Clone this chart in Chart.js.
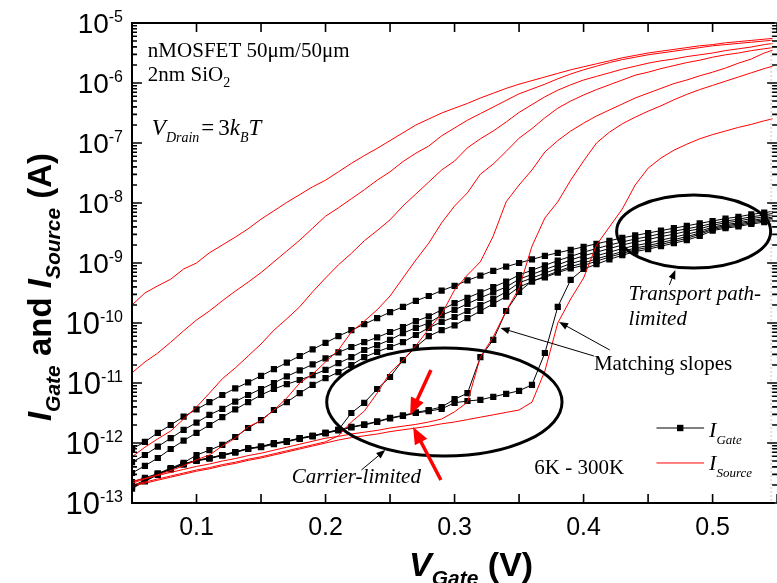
<!DOCTYPE html>
<html>
<head>
<meta charset="utf-8">
<script src="https://cdn.jsdelivr.net/npm/chart.js@4.4.1/dist/chart.umd.min.js"></script>
<style>
  html, body { margin: 0; padding: 0; background: #fff; }
  canvas { display: block; }
</style>
</head>
<body>
<canvas id="grafico" width="777" height="583"></canvas>
<script>
// gate voltage (V), one point every 10 mV
const vGate = [0.05, 0.06, 0.07, 0.08, 0.09, 0.10, 0.11, 0.12, 0.13, 0.14,
  0.15, 0.16, 0.17, 0.18, 0.19, 0.20, 0.21, 0.22, 0.23, 0.24,
  0.25, 0.26, 0.27, 0.28, 0.29, 0.30, 0.31, 0.32, 0.33, 0.34,
  0.35, 0.36, 0.37, 0.38, 0.39, 0.40, 0.41, 0.42, 0.43, 0.44,
  0.45, 0.46, 0.47, 0.48, 0.49, 0.50, 0.51, 0.52, 0.53, 0.54, 0.55];

// currents, stored as log10(I / A), warmest curve first
const iGate1 = [-12.10, -11.98, -11.83, -11.70, -11.56, -11.44, -11.32, -11.20, -11.09, -10.99,
  -10.88, -10.77, -10.66, -10.55, -10.44, -10.33, -10.22, -10.12, -10.02, -9.92,
  -9.82, -9.73, -9.63, -9.55, -9.46, -9.38, -9.29, -9.21, -9.13, -9.06,
  -9.00, -8.94, -8.88, -8.83, -8.78, -8.73, -8.68, -8.63, -8.58, -8.54,
  -8.50, -8.46, -8.42, -8.38, -8.34, -8.30, -8.26, -8.23, -8.19, -8.16, -8.13];
const iGate2 = [-12.32, -12.20, -12.06, -11.92, -11.78, -11.66, -11.53, -11.43, -11.31, -11.20,
  -11.10, -11.00, -10.89, -10.79, -10.69, -10.59, -10.49, -10.40, -10.32, -10.24,
  -10.15, -10.07, -9.97, -9.89, -9.78, -9.67, -9.58, -9.49, -9.40, -9.31,
  -9.20, -9.12, -9.04, -8.96, -8.89, -8.82, -8.76, -8.70, -8.65, -8.60,
  -8.56, -8.51, -8.47, -8.43, -8.39, -8.34, -8.30, -8.27, -8.23, -8.20, -8.16];
const iGate3 = [-12.50, -12.38, -12.25, -12.10, -11.96, -11.83, -11.70, -11.57, -11.44, -11.32,
  -11.20, -11.10, -11.02, -10.95, -10.87, -10.78, -10.67, -10.57, -10.45, -10.37,
  -10.28, -10.17, -10.08, -10.00, -9.87, -9.78, -9.68, -9.58, -9.49, -9.40,
  -9.27, -9.19, -9.11, -9.03, -8.95, -8.88, -8.82, -8.76, -8.70, -8.65,
  -8.61, -8.56, -8.52, -8.47, -8.43, -8.37, -8.33, -8.30, -8.26, -8.23, -8.19];
const iGate4 = [-12.65, -12.58, -12.51, -12.42, -12.33, -12.20, -12.12, -12.03, -11.90, -11.75,
  -11.62, -11.45, -11.32, -11.17, -11.03, -10.92, -10.82, -10.70, -10.57, -10.48,
  -10.40, -10.32, -10.20, -10.08, -9.98, -9.90, -9.80, -9.70, -9.60, -9.48,
  -9.33, -9.25, -9.17, -9.09, -9.01, -8.95, -8.88, -8.82, -8.76, -8.71,
  -8.67, -8.62, -8.57, -8.52, -8.47, -8.40, -8.36, -8.33, -8.29, -8.26, -8.22];
const iGate5 = [-12.72, -12.62, -12.51, -12.43, -12.35, -12.29, -12.25, -12.20, -12.15, -12.09,
  -12.06, -12.00, -11.97, -11.92, -11.88, -11.83, -11.78, -11.50, -11.33, -11.10,
  -10.90, -10.62, -10.40, -10.22, -10.12, -10.04, -9.92, -9.80, -9.68, -9.56,
  -9.40, -9.31, -9.22, -9.14, -9.06, -9.00, -8.93, -8.87, -8.81, -8.75,
  -8.71, -8.66, -8.61, -8.56, -8.50, -8.42, -8.38, -8.35, -8.31, -8.28, -8.24];
const iGate6 = [-12.74, -12.63, -12.52, -12.43, -12.35, -12.29, -12.25, -12.20, -12.15, -12.09,
  -12.06, -12.01, -11.97, -11.92, -11.88, -11.83, -11.78, -11.73, -11.69, -11.64,
  -11.58, -11.54, -11.49, -11.45, -11.40, -11.27, -11.17, -10.57, -10.28, -9.80,
  -9.48, -9.30, -9.24, -9.16, -9.09, -9.04, -8.97, -8.90, -8.84, -8.78,
  -8.74, -8.69, -8.64, -8.59, -8.52, -8.44, -8.40, -8.37, -8.33, -8.30, -8.26];
const iGate7 = [-12.76, -12.64, -12.53, -12.44, -12.36, -12.30, -12.26, -12.21, -12.16, -12.10,
  -12.07, -12.02, -11.98, -11.93, -11.89, -11.84, -11.79, -11.74, -11.70, -11.65,
  -11.59, -11.55, -11.50, -11.47, -11.43, -11.33, -11.30, -11.28, -11.23, -11.18,
  -11.13, -11.03, -10.50, -9.73, -9.28, -9.10, -9.02, -8.94, -8.87, -8.81,
  -8.77, -8.72, -8.67, -8.62, -8.55, -8.46, -8.42, -8.39, -8.35, -8.32, -8.28];

const iSource1 = [-9.70, -9.50, -9.38, -9.27, -9.10, -9.00, -8.83, -8.70, -8.57, -8.43,
  -8.27, -8.13, -7.99, -7.86, -7.73, -7.62, -7.48, -7.34, -7.21, -7.09,
  -6.96, -6.83, -6.70, -6.60, -6.50, -6.42, -6.34, -6.25, -6.17, -6.09,
  -6.02, -5.96, -5.90, -5.84, -5.78, -5.73, -5.68, -5.63, -5.58, -5.54,
  -5.50, -5.47, -5.44, -5.41, -5.38, -5.36, -5.33, -5.31, -5.29, -5.27, -5.25];
const iSource2 = [-10.83, -10.65, -10.50, -10.32, -10.13, -9.95, -9.80, -9.63, -9.47, -9.32,
  -9.16, -8.98, -8.80, -8.62, -8.42, -8.22, -8.08, -7.93, -7.78, -7.62,
  -7.48, -7.31, -7.17, -7.05, -6.88, -6.75, -6.62, -6.51, -6.40, -6.29,
  -6.18, -6.10, -6.02, -5.93, -5.85, -5.78, -5.72, -5.66, -5.61, -5.57,
  -5.53, -5.50, -5.47, -5.44, -5.41, -5.38, -5.36, -5.34, -5.32, -5.30, -5.28];
const iSource3 = [-12.23, -12.07, -11.93, -11.80, -11.60, -11.40, -11.17, -10.93, -10.75, -10.55,
  -10.35, -10.12, -9.93, -9.73, -9.48, -9.25, -9.03, -8.84, -8.63, -8.46,
  -8.28, -8.05, -7.85, -7.65, -7.45, -7.30, -7.08, -6.93, -6.80, -6.65,
  -6.49, -6.36, -6.23, -6.12, -6.03, -5.95, -5.89, -5.83, -5.77, -5.72,
  -5.67, -5.63, -5.60, -5.56, -5.53, -5.50, -5.46, -5.43, -5.40, -5.36, -5.33];
const iSource4 = [-12.67, -12.60, -12.53, -12.46, -12.38, -12.28, -12.20, -12.05, -11.92, -11.73,
  -11.63, -11.45, -11.25, -11.00, -10.85, -10.65, -10.45, -10.15, -9.97, -9.78,
  -9.55, -9.25, -8.95, -8.67, -8.33, -8.05, -7.83, -7.52, -7.35, -7.14,
  -6.92, -6.76, -6.58, -6.42, -6.30, -6.20, -6.11, -6.03, -5.95, -5.87,
  -5.82, -5.76, -5.71, -5.66, -5.62, -5.57, -5.53, -5.50, -5.46, -5.43, -5.40];
const iSource5 = [-12.70, -12.65, -12.60, -12.55, -12.50, -12.45, -12.41, -12.36, -12.32, -12.27,
  -12.23, -12.18, -12.13, -12.08, -12.03, -11.98, -11.88, -11.65, -11.47, -11.17,
  -10.83, -10.62, -10.38, -10.10, -9.85, -9.45, -9.20, -8.98, -8.55, -7.98,
  -7.70, -7.45, -7.15, -6.96, -6.80, -6.67, -6.55, -6.45, -6.35, -6.25,
  -6.17, -6.09, -6.01, -5.95, -5.88, -5.82, -5.75, -5.67, -5.60, -5.50, -5.43];
const iSource6 = [-12.64, -12.59, -12.54, -12.49, -12.44, -12.39, -12.35, -12.30, -12.26, -12.21,
  -12.17, -12.12, -12.07, -12.02, -11.97, -11.92, -11.89, -11.85, -11.82, -11.79,
  -11.75, -11.72, -11.69, -11.65, -11.60, -11.48, -11.32, -10.57, -10.23, -9.80,
  -9.42, -8.72, -8.25, -7.98, -7.62, -7.30, -7.00, -6.82, -6.68, -6.57,
  -6.47, -6.38, -6.28, -6.19, -6.11, -6.04, -5.97, -5.90, -5.83, -5.76, -5.70];
const iSource7 = [-12.72, -12.67, -12.62, -12.57, -12.52, -12.47, -12.43, -12.38, -12.34, -12.29,
  -12.25, -12.20, -12.15, -12.10, -12.05, -12.00, -11.95, -11.91, -11.88, -11.85,
  -11.81, -11.78, -11.75, -11.72, -11.68, -11.65, -11.61, -11.57, -11.53, -11.49,
  -11.45, -11.32, -10.80, -10.00, -9.60, -9.25, -8.70, -8.40, -8.10, -7.70,
  -7.42, -7.25, -7.12, -7.02, -6.93, -6.86, -6.80, -6.74, -6.69, -6.63, -6.58];

const gateCurves = [iGate1, iGate2, iGate3, iGate4, iGate5, iGate6, iGate7];
const sourceCurves = [iSource1, iSource2, iSource3, iSource4, iSource5, iSource6, iSource7];

// axis ticks
const xTickLabels = [0.1, 0.2, 0.3, 0.4, 0.5];
const xTickSteps = [0.1, 0.15, 0.2, 0.25, 0.3, 0.35, 0.4, 0.45, 0.5, 0.55];
const yTickExps = [-13, -12, -11, -10, -9, -8, -7, -6, -5];

// annotation anchors, in (V, log10 A)
const notePos = {
  mos: [0.0623, -5.567], oxide: [0.0623, -5.967], drain: [0.0654, -6.867],
  transport: [0.4349, -9.617], transport2: [0.4349, -10.033],
  matching: [0.408, -10.783], carrier: [0.1739, -12.667], temps: [0.3618, -12.517]
};
const ellTransport = { c: [0.4853, -8.475], rx: 0.0597, ry: 0.608 };
const ellCarrier = { c: [0.2921, -11.317], rx: 0.0912, ry: 0.90 };
const blackArrows = [
  [[0.4665, -9.367], [0.4711, -9.117]],
  [[0.2278, -12.45], [0.2463, -12.117]],
  [[0.408, -10.55], [0.3356, -10.083]],
  [[0.4203, -10.45], [0.381, -9.983]]
];
const redArrows = [
  [[0.2817, -10.783], [0.2656, -11.533]],
  [[0.2894, -12.617], [0.2679, -11.733]]
];
const legendPos = { x0: 0.4565, x1: 0.4934, xm: 0.4749, xt: 0.4973,
  gateY: -11.75, gateText: -11.9, srcY: -12.333, srcText: -12.45 };

const SANS = '"Liberation Sans", Arial, sans-serif';
const SERIF = '"Liberation Serif", "Times New Roman", serif';

function pontos(curva) {
  return vGate.map(function(v, i) { return { x: v, y: Math.pow(10, curva[i]) }; });
}

let datasets = [];
sourceCurves.forEach(function(c, i) {
  datasets.push({
    label: 'I_Source ' + (i + 1), data: pontos(c),
    borderColor: '#ff0000', borderWidth: 1, pointRadius: 0, tension: 0
  });
});
gateCurves.forEach(function(c, i) {
  datasets.push({
    label: 'I_Gate ' + (i + 1), data: pontos(c),
    borderColor: '#000000', borderWidth: 1, tension: 0,
    pointStyle: 'rect', pointRadius: 4.4, pointBackgroundColor: '#000', pointBorderWidth: 0
  });
});

function rich(ctx, x, y, parts) {
  let cx = x;
  parts.forEach(function(p) {
    ctx.font = p.f;
    ctx.fillText(p.t, cx, y + (p.dy || 0));
    cx += ctx.measureText(p.t).width + (p.gap || 0);
  });
  return cx - x;
}

function richWidth(ctx, parts) {
  let w = 0;
  parts.forEach(function(p) { ctx.font = p.f; w += ctx.measureText(p.t).width + (p.gap || 0); });
  return w;
}

function arrow(ctx, p0, p1, color, lw, hl, hw) {
  const ang = Math.atan2(p1[1] - p0[1], p1[0] - p0[0]);
  const c = Math.cos(ang), s = Math.sin(ang);
  ctx.strokeStyle = color; ctx.fillStyle = color; ctx.lineWidth = lw;
  ctx.beginPath();
  ctx.moveTo(p0[0], p0[1]);
  ctx.lineTo(p1[0] - c * hl * 0.7, p1[1] - s * hl * 0.7);
  ctx.stroke();
  ctx.beginPath();
  ctx.moveTo(p1[0], p1[1]);
  ctx.lineTo(p1[0] - hl * c + hw * s, p1[1] - hl * s - hw * c);
  ctx.lineTo(p1[0] - hl * c - hw * s, p1[1] - hl * s + hw * c);
  ctx.closePath();
  ctx.fill();
}

const decor = {
  id: 'decor',
  afterDraw(chart) {
    const ctx = chart.ctx, a = chart.chartArea;
    const xs = chart.scales.x, ys = chart.scales.y;
    function at(p) { return [xs.getPixelForValue(p[0]), ys.getPixelForValue(Math.pow(10, p[1]))]; }
    ctx.save();

    // frame
    ctx.strokeStyle = '#000'; ctx.lineWidth = 2;
    ctx.beginPath();
    ctx.moveTo(a.right + 2, a.top); ctx.lineTo(a.left, a.top);
    ctx.lineTo(a.left, a.bottom); ctx.lineTo(a.right + 2, a.bottom);
    ctx.stroke();
    ctx.strokeStyle = '#c4c4c4'; ctx.lineWidth = 1; ctx.setLineDash([2, 2]);
    ctx.beginPath(); ctx.moveTo(a.right - 1.5, a.top); ctx.lineTo(a.right - 1.5, a.bottom); ctx.stroke();
    ctx.setLineDash([]);

    // ticks, pointing inwards
    const xRight = xs.getPixelForValue(0.55);
    ctx.strokeStyle = '#000'; ctx.lineWidth = 1.6;
    ctx.beginPath();
    xTickSteps.forEach(function(v) {
      const x = xs.getPixelForValue(v);
      ctx.moveTo(x, a.bottom); ctx.lineTo(x, a.bottom - 9);
      ctx.moveTo(x, a.top); ctx.lineTo(x, a.top + 9);
    });
    yTickExps.forEach(function(e) {
      for (let k = 1; k <= 9; k++) {
        if (e === -5 && k > 1) break;
        const y = ys.getPixelForValue(k * Math.pow(10, e));
        const len = k === 1 ? 10 : 5;
        ctx.moveTo(a.left, y); ctx.lineTo(a.left + len, y);
        ctx.moveTo(xRight, y); ctx.lineTo(xRight - len, y);
      }
    });
    ctx.stroke();

    // tick labels
    ctx.fillStyle = '#000';
    ctx.textBaseline = 'alphabetic';
    ctx.textAlign = 'center';
    ctx.font = '25px ' + SANS;
    xTickLabels.forEach(function(v) {
      ctx.fillText(v.toFixed(1), xs.getPixelForValue(v), a.bottom + 32);
    });
    ctx.textAlign = 'left';
    yTickExps.forEach(function(e) {
      const y = ys.getPixelForValue(Math.pow(10, e));
      const size = e <= -10 ? 31 : 28;
      ctx.font = size + 'px ' + SANS;
      const w10 = ctx.measureText('10').width;
      ctx.font = '16px ' + SANS;
      const wExp = ctx.measureText(String(e)).width;
      const x0 = a.left - 9 - wExp - w10;
      ctx.font = size + 'px ' + SANS;
      ctx.fillText('10', x0, y + size * 0.358);
      ctx.font = '16px ' + SANS;
      ctx.fillText(String(e), x0 + w10, y - 1.5);
    });

    // axis titles
    const bi = 'italic bold ', b = 'bold ';
    rich(ctx, 409, 576, [
      { t: 'V', f: bi + '34px ' + SANS },
      { t: 'Gate', f: bi + '21px ' + SANS, dy: 9 },
      { t: ' (V)', f: b + '34px ' + SANS }
    ]);
    const yTitle = [
      { t: 'I', f: bi + '33px ' + SANS },
      { t: 'Gate', f: bi + '21px ' + SANS, dy: 9 },
      { t: ' and ', f: b + '33px ' + SANS },
      { t: 'I', f: bi + '33px ' + SANS },
      { t: 'Source', f: bi + '21px ' + SANS, dy: 9 },
      { t: ' (A)', f: b + '33px ' + SANS }
    ];
    const tw = richWidth(ctx, yTitle);
    ctx.save();
    ctx.translate(51, 287 + tw / 2);
    ctx.rotate(-Math.PI / 2);
    rich(ctx, 0, 0, yTitle);
    ctx.restore();

    // text notes
    let p = at(notePos.mos);
    rich(ctx, p[0], p[1], [{ t: 'nMOSFET 50\u03bcm/50\u03bcm', f: '21px ' + SERIF }]);
    p = at(notePos.oxide);
    rich(ctx, p[0], p[1], [{ t: '2nm SiO', f: '21px ' + SERIF }, { t: '2', f: '14px ' + SERIF, dy: 6 }]);
    p = at(notePos.drain);
    rich(ctx, p[0], p[1], [
      { t: 'V', f: 'italic 23px ' + SERIF },
      { t: 'Drain', f: 'italic 14px ' + SERIF, dy: 7, gap: 2 },
      { t: '=', f: '23px ' + SERIF, gap: 4 },
      { t: '3', f: '23px ' + SERIF },
      { t: 'k', f: 'italic 23px ' + SERIF },
      { t: 'B', f: 'italic 14px ' + SERIF, dy: 7 },
      { t: 'T', f: 'italic 23px ' + SERIF }
    ]);
    p = at(notePos.transport);
    rich(ctx, p[0], p[1], [{ t: 'Transport path-', f: 'italic 21px ' + SERIF }]);
    p = at(notePos.transport2);
    rich(ctx, p[0], p[1], [{ t: 'limited', f: 'italic 21px ' + SERIF }]);
    p = at(notePos.matching);
    rich(ctx, p[0], p[1], [{ t: 'Matching slopes', f: '21px ' + SERIF }]);
    p = at(notePos.carrier);
    rich(ctx, p[0], p[1], [{ t: 'Carrier-limited', f: 'italic 21px ' + SERIF }]);
    p = at(notePos.temps);
    rich(ctx, p[0], p[1], [{ t: '6K - 300K', f: '21px ' + SERIF }]);

    // ellipses
    [ellTransport, ellCarrier].forEach(function(el) {
      const c = at(el.c);
      const rx = xs.getPixelForValue(el.c[0] + el.rx) - c[0];
      const ry = c[1] - ys.getPixelForValue(Math.pow(10, el.c[1] + el.ry));
      ctx.strokeStyle = '#000'; ctx.lineWidth = 3;
      ctx.beginPath(); ctx.ellipse(c[0], c[1], rx, ry, 0, 0, Math.PI * 2); ctx.stroke();
    });

    // arrows
    blackArrows.forEach(function(ar) { arrow(ctx, at(ar[0]), at(ar[1]), '#000', 1, 9, 3.5); });
    redArrows.forEach(function(ar) { arrow(ctx, at(ar[0]), at(ar[1]), '#ff0000', 3.5, 17, 7); });

    // legend
    const lx0 = xs.getPixelForValue(legendPos.x0), lx1 = xs.getPixelForValue(legendPos.x1);
    const lxm = xs.getPixelForValue(legendPos.xm), lxt = xs.getPixelForValue(legendPos.xt);
    let ly = ys.getPixelForValue(Math.pow(10, legendPos.gateY));
    ctx.strokeStyle = '#000'; ctx.lineWidth = 1;
    ctx.beginPath(); ctx.moveTo(lx0, ly); ctx.lineTo(lx1, ly); ctx.stroke();
    ctx.fillStyle = '#000'; ctx.fillRect(lxm - 3.2, ly - 3.2, 6.4, 6.4);
    rich(ctx, lxt, ys.getPixelForValue(Math.pow(10, legendPos.gateText)), [
      { t: 'I', f: 'italic 22px ' + SERIF }, { t: 'Gate', f: 'italic 13px ' + SERIF, dy: 7 }
    ]);
    ly = ys.getPixelForValue(Math.pow(10, legendPos.srcY));
    ctx.strokeStyle = '#ff0000';
    ctx.beginPath(); ctx.moveTo(lx0, ly); ctx.lineTo(lx1, ly); ctx.stroke();
    rich(ctx, lxt, ys.getPixelForValue(Math.pow(10, legendPos.srcText)), [
      { t: 'I', f: 'italic 22px ' + SERIF }, { t: 'Source', f: 'italic 13px ' + SERIF, dy: 7 }
    ]);

    ctx.restore();
  }
};

new Chart(document.getElementById('grafico').getContext('2d'), {
  type: 'line',
  data: { datasets: datasets },
  options: {
    responsive: false,
    animation: false,
    layout: { padding: { left: 132, right: 0, top: 23, bottom: 80 } },
    scales: {
      x: { type: 'linear', display: false, min: 0.05, max: 0.5465 },
      y: { type: 'logarithmic', display: false, min: 1e-13, max: 1e-5 }
    },
    plugins: { legend: { display: false }, tooltip: { enabled: false } }
  },
  plugins: [decor]
});
</script>
</body>
</html>
